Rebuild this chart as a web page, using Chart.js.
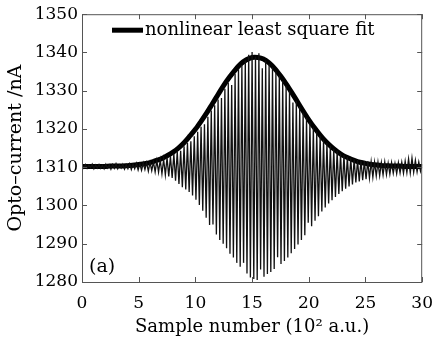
<!DOCTYPE html>
<html>
<head>
<meta charset="utf-8">
<script src="https://cdn.jsdelivr.net/npm/chart.js@4"></script>
<style>
html, body { margin: 0; padding: 0; background: #fff; }
</style>
</head>
<body>
<canvas id="chart" width="444" height="342"></canvas>
<script>
// x ticks (10^2 samples) and y ticks (nA)
const xTicks = [0, 5, 10, 15, 20, 25, 30];
const yTicks = [1280, 1290, 1300, 1310, 1320, 1330, 1340, 1350];

// measured opto-current, one value every 0.15 (x 10^2 samples)
const signalStep = 0.15;
const signal = [
    1310.6, 1309.8, 1310.7, 1309.7, 1310.5, 1309.9, 1310.8, 1309.6, 1310.6, 1309.8,
    1310.7, 1309.7, 1310.5, 1309.6, 1310.8, 1309.8, 1310.6, 1309.5, 1310.7, 1309.7,
    1310.9, 1309.6, 1310.6, 1309.8, 1310.8, 1309.5, 1310.7, 1309.6, 1310.9, 1309.4,
    1310.8, 1309.6, 1311.0, 1309.3, 1310.9, 1309.2, 1311.1, 1309.4, 1311.2, 1309.0,
    1311.3, 1309.1, 1311.4, 1308.8, 1311.7, 1308.7, 1311.9, 1308.3, 1312.1, 1308.0,
    1312.5, 1307.6, 1312.9, 1307.2, 1313.5, 1306.5, 1314.1, 1305.6, 1314.3, 1304.8,
    1315.5, 1304.2, 1316.3, 1303.5, 1316.8, 1302.6, 1318.1, 1301.5, 1319.3, 1300.1,
    1320.6, 1298.6, 1321.2, 1296.8, 1323.2, 1294.9, 1324.8, 1295.0, 1326.2, 1292.4,
    1327.7, 1291.0, 1328.1, 1290.0, 1330.5, 1288.8, 1332.0, 1287.4, 1331.5, 1286.4,
    1334.4, 1285.0, 1335.6, 1284.0, 1336.7, 1285.0, 1337.9, 1282.2, 1339.4, 1281.2,
    1340.1, 1280.8, 1338.9, 1280.5, 1339.8, 1283.3, 1335.9, 1281.4, 1337.9, 1282.1,
    1337.0, 1282.6, 1336.1, 1283.4, 1335.0, 1286.5, 1333.9, 1284.7, 1332.6, 1285.5,
    1331.3, 1286.4, 1330.0, 1287.5, 1326.9, 1288.6, 1327.3, 1289.8, 1325.8, 1291.0,
    1324.3, 1292.2, 1322.9, 1295.5, 1321.6, 1294.6, 1320.4, 1296.0, 1319.3, 1297.2,
    1318.2, 1298.4, 1317.2, 1299.5, 1316.4, 1300.5, 1315.6, 1301.4, 1314.8, 1302.2,
    1314.3, 1303.0, 1313.6, 1303.7, 1313.2, 1304.4, 1312.7, 1305.0, 1312.4, 1305.5,
    1312.1, 1306.0, 1311.9, 1306.3, 1311.8, 1306.6, 1311.6, 1306.9, 1311.5, 1307.2,
    1311.4, 1307.4, 1311.3, 1307.7, 1311.3, 1307.8, 1311.2, 1308.0, 1311.4, 1308.1,
    1311.1, 1308.2, 1311.2, 1308.4, 1311.0, 1308.3, 1311.2, 1308.5, 1311.3, 1308.4,
    1311.6, 1308.6, 1312.2, 1308.5, 1312.4, 1308.7, 1311.8, 1308.8, 1311.4, 1309.0,
    1310.8
];

// nonlinear least square fit, one value every 0.5
const fitStep = 0.5;
const fit = [
    1310.2, 1310.2, 1310.2, 1310.2, 1310.2, 1310.3, 1310.3, 1310.3, 1310.4, 1310.5,
    1310.7, 1310.9, 1311.2, 1311.7, 1312.2, 1313.0, 1313.9, 1315.0, 1316.4, 1318.1,
    1319.9, 1322.0, 1324.2, 1326.6, 1329.0, 1331.4, 1333.5, 1335.4, 1337.0, 1338.1,
    1338.7, 1338.7, 1338.3, 1337.3, 1335.8, 1333.9, 1331.8, 1329.5, 1327.1, 1324.7,
    1322.4, 1320.3, 1318.4, 1316.7, 1315.3, 1314.1, 1313.1, 1312.4, 1311.8, 1311.3,
    1311.0, 1310.7, 1310.6, 1310.4, 1310.4, 1310.3, 1310.3, 1310.2, 1310.2, 1310.2,
    1310.2
];

const signalPoints = signal.map((v, i) => ({ x: i * signalStep, y: v }));
const fitPoints = fit.map((v, i) => ({ x: i * fitStep, y: v }));

Chart.defaults.font.family = "'DejaVu Serif', serif";
Chart.defaults.font.size = 17;
Chart.defaults.color = '#000';

// box round the plot, ticks pointing inward, legend and panel letter
const framePlugin = {
    id: 'frame',
    afterDatasetsDraw(chart) {
        const { ctx, chartArea: a, scales } = chart;
        ctx.save();
        ctx.strokeStyle = '#555';
        ctx.lineWidth = 1;
        ctx.strokeRect(a.left + 0.5, a.top + 0.5, a.right - a.left - 1, a.bottom - a.top);
        const len = 5;
        ctx.beginPath();
        xTicks.forEach(t => {
            const px = Math.round(scales.x.getPixelForValue(t)) + 0.5;
            ctx.moveTo(px, a.bottom); ctx.lineTo(px, a.bottom - len);
            ctx.moveTo(px, a.top); ctx.lineTo(px, a.top + len);
        });
        yTicks.forEach(t => {
            const py = Math.round(scales.y.getPixelForValue(t)) + 0.5;
            ctx.moveTo(a.left, py); ctx.lineTo(a.left + len, py);
            ctx.moveTo(a.right, py); ctx.lineTo(a.right - len, py);
        });
        ctx.stroke();

        // legend
        const ly = a.top + 16;
        ctx.strokeStyle = '#000';
        ctx.lineWidth = 5;
        ctx.beginPath();
        ctx.moveTo(a.left + 30, ly);
        ctx.lineTo(a.left + 61, ly);
        ctx.stroke();
        ctx.fillStyle = '#000';
        ctx.font = "18px 'DejaVu Serif'";
        ctx.textBaseline = 'middle';
        ctx.fillText(chart.data.datasets[1].label, a.left + 63, ly);

        ctx.font = "19px 'DejaVu Serif'";
        ctx.fillText('(a)', a.left + 7, a.bottom - 15);
        ctx.restore();
    }
};

new Chart(document.getElementById('chart'), {
    type: 'line',
    data: {
        datasets: [
            {
                label: 'measured',
                data: signalPoints,
                borderColor: '#111',
                borderWidth: 1.3,
                pointRadius: 0,
                tension: 0
            },
            {
                label: 'nonlinear least square fit',
                data: fitPoints,
                borderColor: '#000',
                borderWidth: 5,
                pointRadius: 0,
                tension: 0.3
            }
        ]
    },
    options: {
        responsive: false,
        animation: false,
        events: [],
        layout: { padding: { left: 0, top: 14, right: 13, bottom: 0 } },
        plugins: {
            legend: { display: false },
            tooltip: { enabled: false }
        },
        scales: {
            x: {
                type: 'linear',
                min: 0,
                max: 30,
                grid: { display: false, drawTicks: false },
                border: { display: false },
                ticks: { stepSize: 5, padding: 11, maxRotation: 0, callback: v => String(v) },
                title: { display: true, text: 'Sample number (10² a.u.)', font: { size: 18 }, padding: { top: 0, bottom: 4 } },
                afterFit(s) { s.height = 60; }
            },
            y: {
                min: 1280,
                max: 1350,
                grid: { display: false, drawTicks: false },
                border: { display: false },
                ticks: { stepSize: 10, padding: 4, callback: v => String(v) },
                title: { display: true, text: 'Opto–current /nA', font: { size: 19 }, padding: { top: 5, bottom: 0 } },
                afterFit(s) { s.width = 82; }
            }
        }
    },
    plugins: [framePlugin]
});
</script>
</body>
</html>
